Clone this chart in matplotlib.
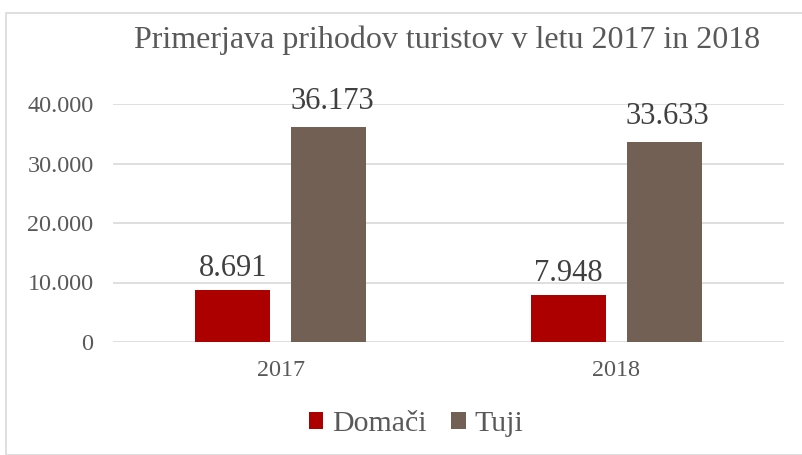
import matplotlib
matplotlib.use("Agg")
import matplotlib.pyplot as plt
import numpy as np
from matplotlib.patches import Rectangle

categories = ["2017", "2018"]
domaci = [8691, 7948]
tuji = [36173, 33633]
series_names = ["Domači", "Tuji"]
yticks = [0, 10000, 20000, 30000, 40000]
ytick_labels = ["0", "10.000", "20.000", "30.000", "40.000"]
domaci_labels = ["8.691", "7.948"]
tuji_labels = ["36.173", "33.633"]

plt.rcParams['font.family'] = ['Liberation Serif', 'DejaVu Serif']
txt = '#595959'

W, H = 803, 455
fig = plt.figure(figsize=(W/100, H/100), dpi=100)
fig.patches.append(Rectangle((6/W, 0), (W-6)/W, (H-13)/H, transform=fig.transFigure,
                             fill=False, edgecolor='#D9D9D9', lw=1.2))
ax = fig.add_axes([113/W, 1-342/H, (784-113)/W, (342-104)/H])

x = np.arange(len(categories))
bw = 0.2236
off = 0.143
b1 = ax.bar(x - off, domaci, bw, color='#AC0000', label=series_names[0], zorder=3)
b2 = ax.bar(x + off, tuji, bw, color='#736055', label=series_names[1], zorder=3)

for rect, lab in zip(b1, domaci_labels):
    ax.annotate(lab, (rect.get_x() + rect.get_width()/2, rect.get_height()),
                xytext=(0, 5), textcoords='offset points', ha='center', va='bottom',
                fontsize=22, color='#404040')
for rect, lab in zip(b2, tuji_labels):
    ax.annotate(lab, (rect.get_x() + rect.get_width()/2, rect.get_height()),
                xytext=(2.5, 8), textcoords='offset points', ha='center', va='bottom',
                fontsize=22, color='#404040')

ax.set_xlim(-0.5, 1.5)
ax.set_ylim(0, 40000)
ax.set_yticks(yticks)
ax.set_yticklabels(ytick_labels, fontsize=17.4, color=txt)
ax.set_xticks(x)
ax.set_xticklabels(categories, fontsize=17.4, color=txt)
ax.tick_params(axis='y', length=0, pad=14)
ax.tick_params(axis='x', length=0, pad=13)
ax.grid(axis='y', color='#D9D9D9', lw=1.2, zorder=0)
for s in ax.spines.values():
    s.set_visible(False)
ax.set_axisbelow(True)

fig.text(447/W, 1-40/H, "Primerjava prihodov turistov v letu 2017 in 2018",
         ha='center', va='center', fontsize=23, color=txt)

fig.legend(handles=[b1, b2], labels=series_names, loc='center', bbox_to_anchor=(416/W, 1-424/H),
           ncol=2, frameon=False, fontsize=21.5, handlelength=0.5, handleheight=0.5,
           handletextpad=0.3, columnspacing=0.8, labelcolor=txt)

fig.savefig("out.png", dpi=100, facecolor='white')
